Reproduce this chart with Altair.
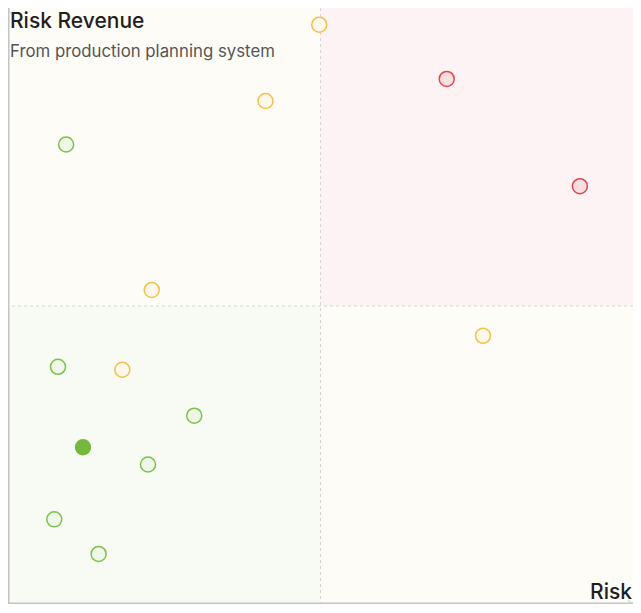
import altair as alt
import pandas as pd

# ---- data ----
risk =    [49.8, 70.2, 91.5, 41.2, 9.3, 23.0, 76.0, 8.0, 18.3, 29.8, 12.0, 22.4, 7.4, 14.5]
revenue = [97.2, 88.1, 70.1, 84.4, 77.1, 52.7, 45.0, 39.8, 39.3, 31.6, 26.3, 23.4, 14.2, 8.4]
status =  ["medium", "high", "high", "medium", "low", "medium", "medium", "low",
           "medium", "low", "selected", "low", "low", "low"]

quad_x0 = [0, 50, 0, 50]
quad_x1 = [50, 100, 50, 100]
quad_y0 = [50, 50, 0, 0]
quad_y1 = [100, 100, 50, 50]
quad_name = ["tl", "tr", "bl", "br"]

title_text = "Risk Revenue"
subtitle_text = "From production planning system"
x_label = "Risk"

W, H = 625, 596

pts = pd.DataFrame({"risk": risk, "revenue": revenue, "status": status})
quads = pd.DataFrame({"x0": quad_x0, "x1": quad_x1, "y0": quad_y0, "y1": quad_y1, "q": quad_name})

xs = alt.Scale(domain=[0, 100], nice=False, zero=False)
ys = alt.Scale(domain=[0, 100], nice=False, zero=False)

bg = alt.Chart(quads).mark_rect(stroke=None).encode(
    x=alt.X("x0:Q", scale=xs, axis=None),
    x2="x1:Q",
    y=alt.Y("y0:Q", scale=ys, axis=None),
    y2="y1:Q",
    fill=alt.Fill("q:N", scale=alt.Scale(domain=quad_name,
                                         range=["#fdfcf7", "#fef3f4", "#f7fbf3", "#fdfcf7"]),
                  legend=None),
)

mid = pd.DataFrame({"v": [50]})
vline = alt.Chart(mid).mark_rule(color="#d4d4d4", strokeDash=[3, 3], strokeWidth=1).encode(
    x=alt.X("v:Q", scale=xs, axis=None))
hline = alt.Chart(mid).mark_rule(color="#d4d4d4", strokeDash=[3, 3], strokeWidth=1).encode(
    y=alt.Y("v:Q", scale=ys, axis=None))

yaxis = alt.Chart(mid).mark_rule(color="#c4c4c4", strokeWidth=1.5).encode(
    x=alt.value(0.75), y=alt.value(0), y2=alt.value(H + 1))
xaxis = alt.Chart(mid).mark_rule(color="#c4c4c4", strokeWidth=1.5).encode(
    y=alt.value(H - 0.75), x=alt.value(0), x2=alt.value(W))
yarrow = alt.Chart(mid).mark_point(shape="M-1,0.9L0,0L1,0.9", filled=False, color="#c4c4c4",
                                   strokeWidth=1.2, size=40).encode(
    x=alt.value(0.75), y=alt.value(3))
xarrow = alt.Chart(mid).mark_point(shape="M-0.9,-1L0,0L-0.9,1", filled=False, color="#c4c4c4",
                                   strokeWidth=1.2, size=40).encode(
    x=alt.value(W - 2), y=alt.value(H - 0.75))

cat_dom = ["low", "medium", "high", "selected"]
points = alt.Chart(pts).mark_point(filled=False, size=225, strokeWidth=1.5, opacity=1,
                                   fillOpacity=1).encode(
    x=alt.X("risk:Q", scale=xs, axis=None),
    y=alt.Y("revenue:Q", scale=ys, axis=None),
    stroke=alt.Stroke("status:N", scale=alt.Scale(domain=cat_dom,
                      range=["#7cc24a", "#f2c04c", "#e0474c", "#74b93e"]), legend=None),
    fill=alt.Fill("status:N", scale=alt.Scale(domain=cat_dom,
                  range=["#eff7e8", "#fdf8ea", "#fadfe0", "#74b93e"]), legend=None),
)

title = alt.Chart(mid).mark_text(text=title_text, align="left", baseline="alphabetic",
                                 font="Inter", fontSize=21, fontWeight=500, color="#1f1f1f").encode(
    x=alt.value(2), y=alt.value(20))
subtitle = alt.Chart(mid).mark_text(text=subtitle_text, align="left", baseline="alphabetic",
                                    font="Inter", fontSize=16.8, color="#555555").encode(
    x=alt.value(2), y=alt.value(49))
xlab = alt.Chart(mid).mark_text(text=x_label, align="right", baseline="alphabetic",
                                font="Inter", fontSize=21, fontWeight=500, color="#1f1f1f").encode(
    x=alt.value(W - 1), y=alt.value(H - 5))

chart = alt.layer(bg, vline, hline, yaxis, xaxis, yarrow, xarrow, points, title, subtitle, xlab).properties(
    width=W, height=H,
    autosize=alt.AutoSizeParams(type="none"),
    padding={"left": 0, "top": 0, "right": 0, "bottom": 0},
).configure_view(stroke=None).resolve_scale(fill="independent")

chart.save("out.html", embed_options={"renderer": "svg", "actions": False})
